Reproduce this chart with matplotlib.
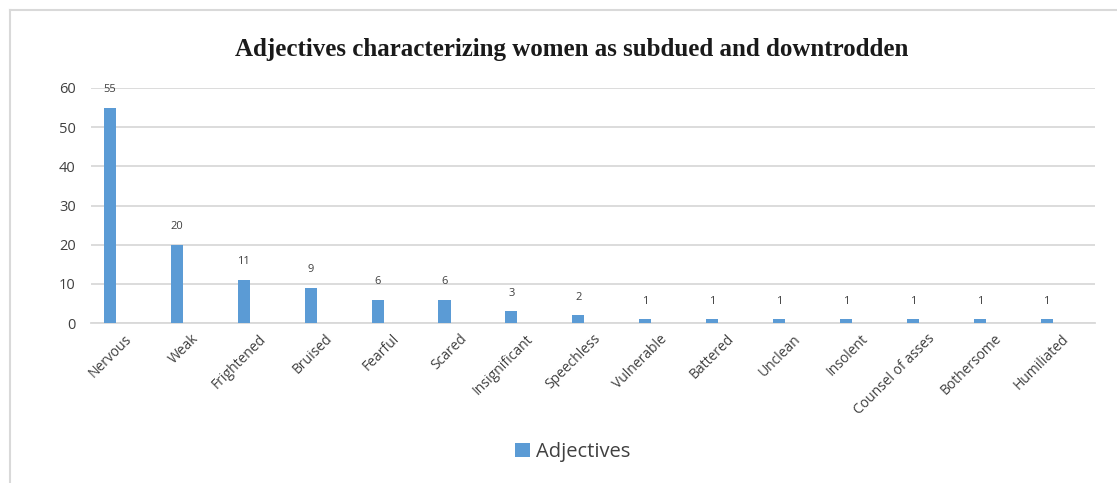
import matplotlib.pyplot as plt
import numpy as np
from matplotlib.lines import Line2D

# adjective counts
words = ["Nervous", "Weak", "Frightened", "Bruised", "Fearful", "Scared",
         "Insignificant", "Speechless", "Vulnerable", "Battered", "Unclean",
         "Insolent", "Counsel of asses", "Bothersome", "Humiliated"]
counts = [55, 20, 11, 9, 6, 6, 3, 2, 1, 1, 1, 1, 1, 1, 1]

blue = "#5B9BD5"
grid = "#d9d9d9"

fig = plt.figure(figsize=(11.17, 4.83), dpi=100)
ax = fig.add_axes([0.0815, 0.331, 0.8985, 0.487])

x = np.arange(len(words))
bars = ax.bar(x - 0.217, counts, width=0.18, color=blue, label="Adjectives", zorder=3)
for xi, v in zip(x, counts):
    ax.text(xi - 0.217, v + 3.2, str(v), ha="center", va="bottom", fontsize=8,
            family="Open Sans", color="#404040")

ax.set_xlim(-0.5, len(words) - 0.5)
ax.set_ylim(0, 60)
ax.set_yticks(range(0, 61, 10))
ax.yaxis.grid(True, color=grid, lw=1.3, zorder=0)
ax.tick_params(axis="y", length=0, pad=11, labelsize=10.5, labelcolor="#404040")
ax.tick_params(axis="x", length=0, pad=6)
ax.set_xticks(x)
ax.set_xticklabels(words, rotation=45, ha="right", rotation_mode="anchor",
                   fontsize=10, color="#404040", family="Open Sans")
for lab in ax.get_yticklabels():
    lab.set_family("Open Sans")
for s in ["top", "right", "left"]:
    ax.spines[s].set_visible(False)
ax.spines["bottom"].set_color(grid)
ax.spines["bottom"].set_linewidth(1.3)

fig.text(0.512, 0.897, "Adjectives characterizing women as subdued and downtrodden",
         ha="center", va="center", fontsize=18, fontweight="bold",
         family="Liberation Serif", color="#1a1a1a")

ax.legend(loc="center", bbox_to_anchor=(0.513, 0.064), bbox_transform=fig.transFigure,
          frameon=False, prop={"family": "Open Sans", "size": 14.5},
          handlelength=0.75, handleheight=0.75, handletextpad=0.3,
          labelcolor="#404040")

# chart border (left and top edges)
fig.add_artist(Line2D([10 / 1117, 10 / 1117], [0, 1 - 10 / 483],
                      transform=fig.transFigure, color=grid, lw=1.5))
fig.add_artist(Line2D([10 / 1117, 1], [1 - 10 / 483, 1 - 10 / 483],
                      transform=fig.transFigure, color=grid, lw=1.5))

fig.savefig("out.png", dpi=100)
